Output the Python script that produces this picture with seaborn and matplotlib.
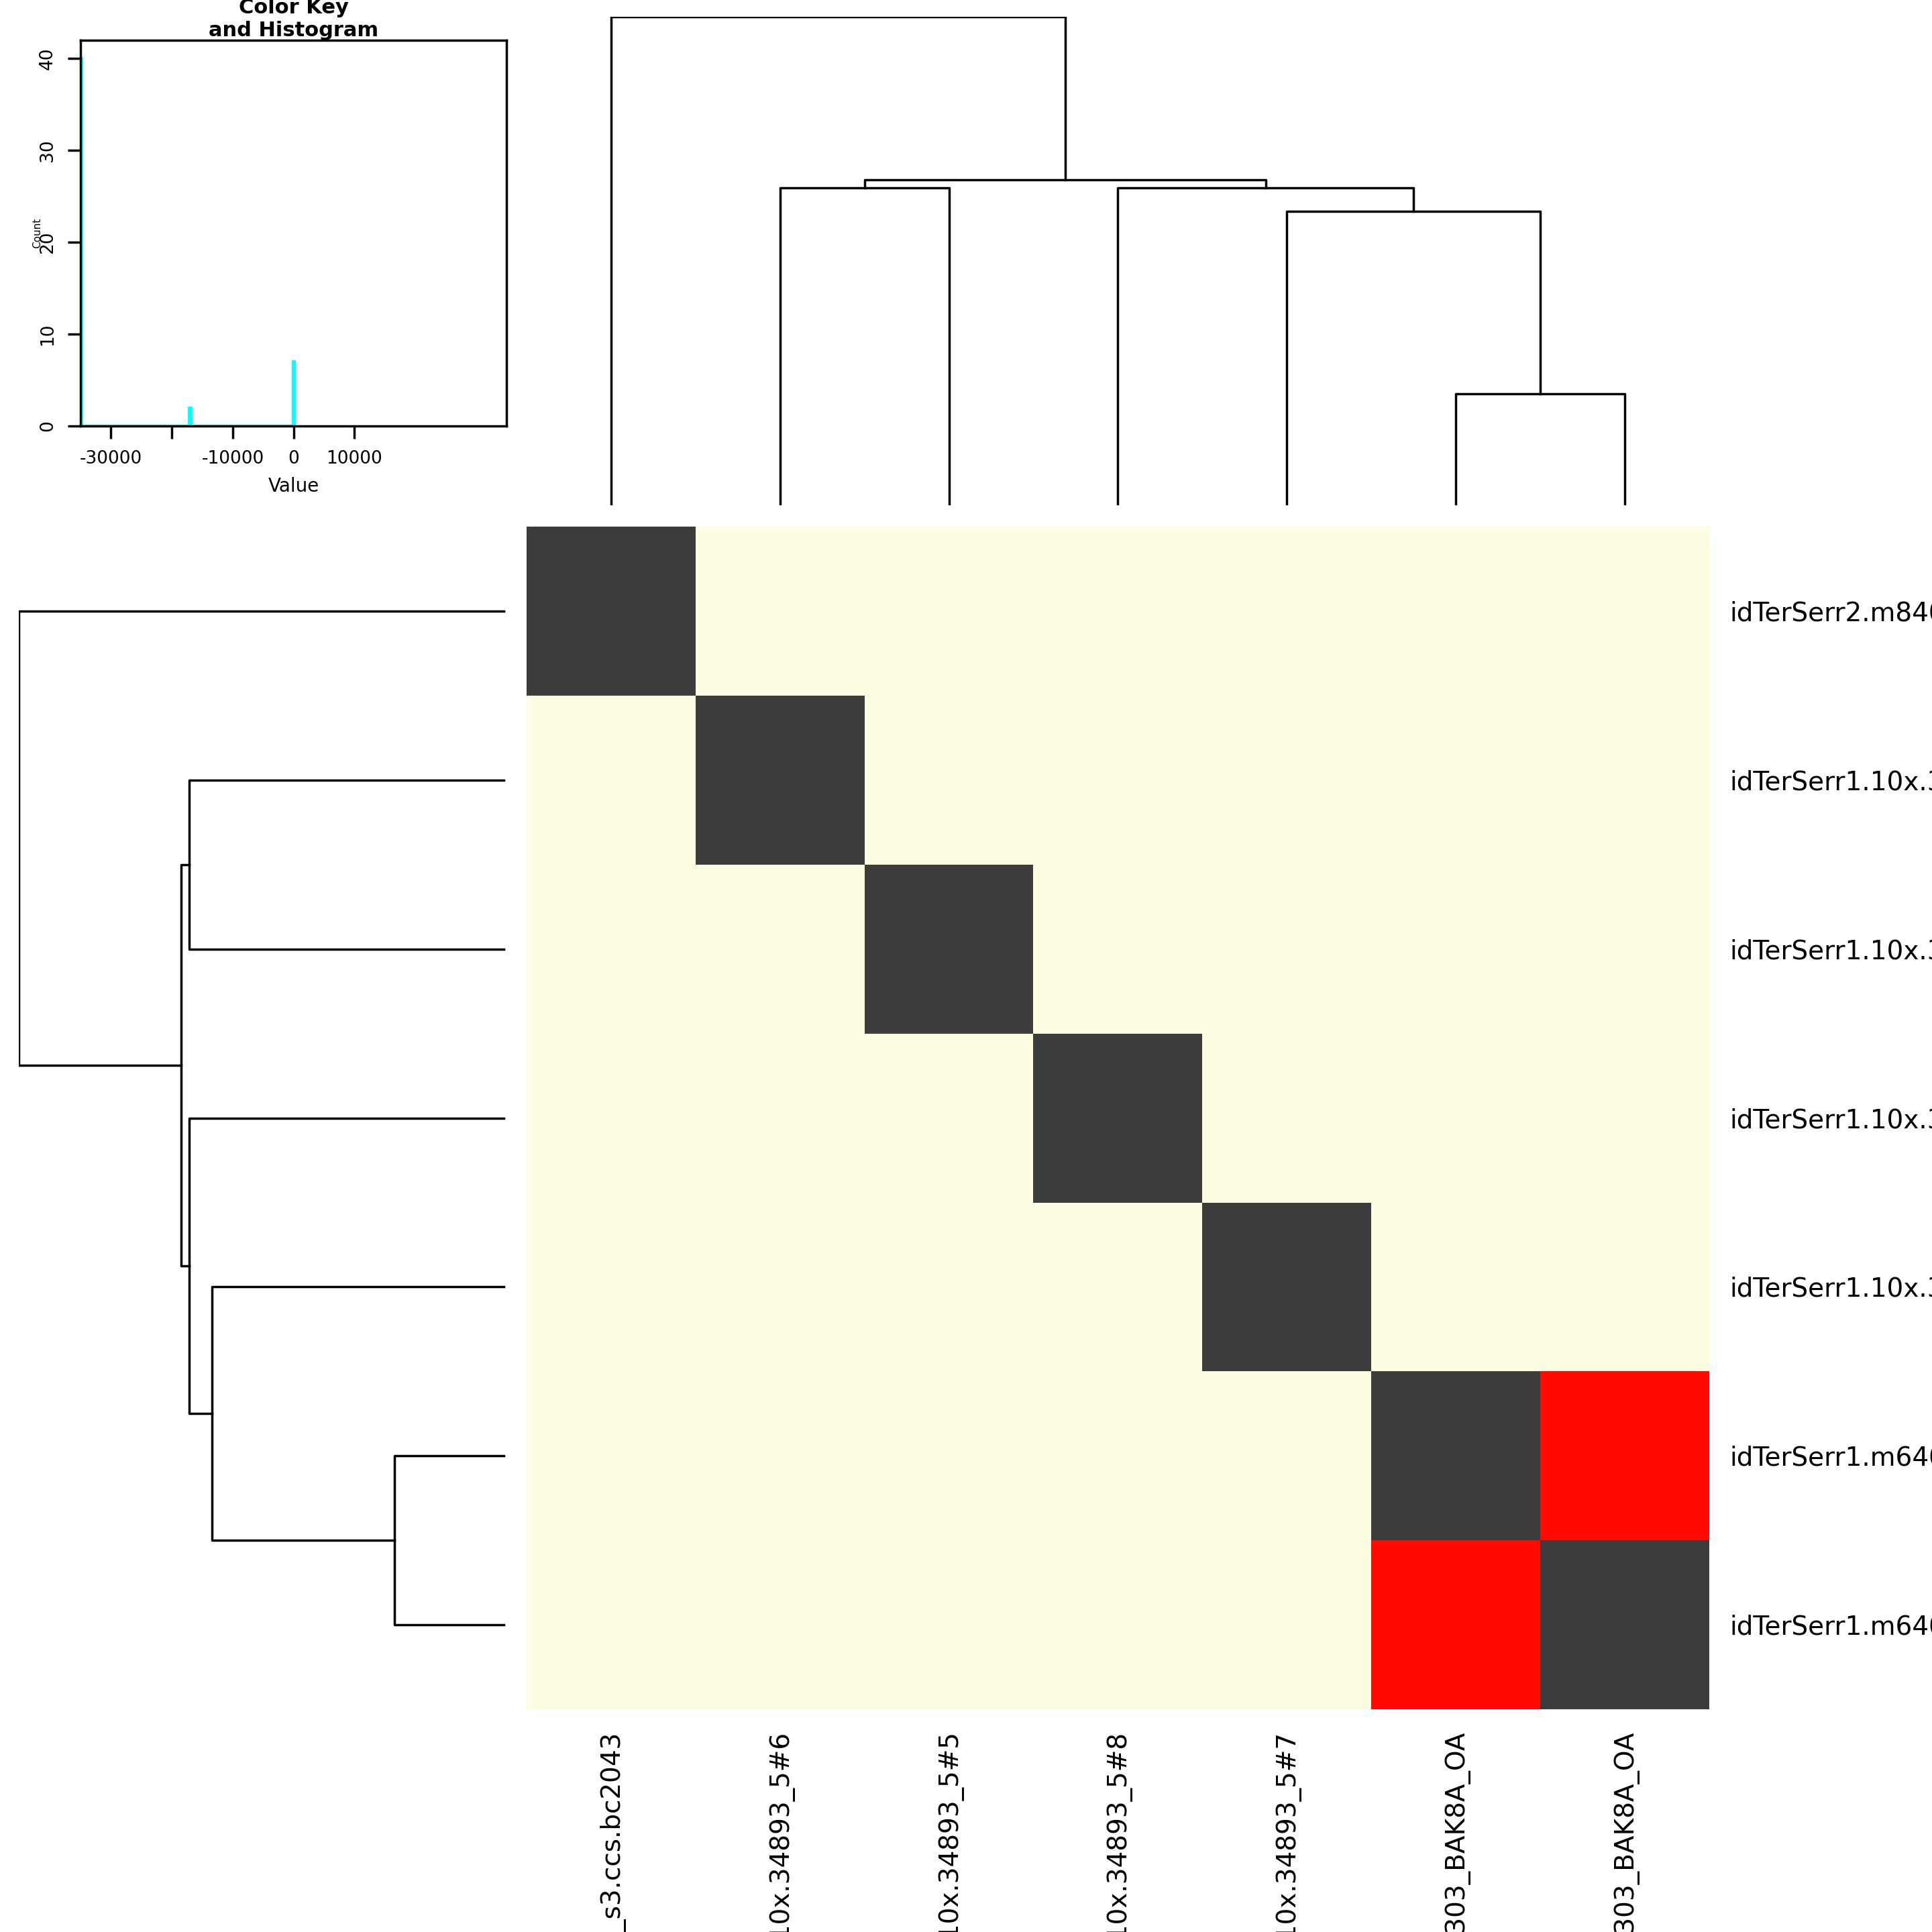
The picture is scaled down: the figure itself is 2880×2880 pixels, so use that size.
import numpy as np
import pandas as pd
import matplotlib
matplotlib.use("Agg")
import matplotlib.pyplot as plt
from matplotlib.colors import ListedColormap
import seaborn as sns

# leaf labels in dendrogram order
labels = [
    "idTerSerr2.m84047_230825_133205_s3.ccs.bc2043",
    "idTerSerr1.10x.34893_5#6",
    "idTerSerr1.10x.34893_5#5",
    "idTerSerr1.10x.34893_5#8",
    "idTerSerr1.10x.34893_5#7",
    "idTerSerr1.m64016_200303_BAK8A_OA",
    "idTerSerr1.m64016e_200303_BAK8A_OA",
]
diag_value = 0
pair_value = -17000
other_value = -34900

# merges: (left leaf/node, right leaf/node, height); nodes numbered 7.. in order
merges = [
    (1, 2, 472),
    (5, 6, 164),
    (4, 8, 437),
    (3, 9, 472),
    (7, 10, 484),
    (0, 11, 727),
]

# histogram of values (bin edges and counts)
hist_edges = [-35000, -34950, -17100, -16900, -100, 0]
hist_counts = [40, 0, 2, 0, 7]

n = len(labels)
mat = np.full((n, n), other_value, dtype=float)
np.fill_diagonal(mat, diag_value)
mat[5, 6] = pair_value
mat[6, 5] = pair_value
df = pd.DataFrame(mat, index=labels, columns=labels)

cmap = ListedColormap(["#FFFDE1", "#FF0A00", "#3C3C3C"])

fig = plt.figure(figsize=(28.8, 28.8), dpi=100)
ax_hm = fig.add_axes([0.2726, 0.1153, 0.612, 0.612])
ax_col = fig.add_axes([0.2726, 0.7372, 0.612, 0.254])
ax_row = fig.add_axes([0.0097, 0.1153, 0.2531, 0.612])
ax_hist = fig.add_axes([0.0417, 0.7795, 0.2205, 0.1997])

sns.heatmap(df, ax=ax_hm, cmap=cmap, vmin=-35000, vmax=0, cbar=False)
ax_hm.yaxis.tick_right()
ax_hm.tick_params(length=0, labelsize=28, pad=22)
ax_hm.set_yticklabels(labels, rotation=0, ha="left")
ax_hm.set_xticklabels(labels, rotation=90, va="top")
ax_hm.set_xlabel("")
ax_hm.set_ylabel("")


def draw_dendro(ax, vertical):
    pos = {i: i + 0.5 for i in range(n)}
    hgt = {i: 0.0 for i in range(n)}
    for k, (a, b, h) in enumerate(merges):
        xs = [pos[a], pos[a], pos[b], pos[b]]
        ys = [hgt[a], h, h, hgt[b]]
        if vertical:
            ax.plot(xs, ys, color="black", lw=2.5)
        else:
            ax.plot(ys, xs, color="black", lw=2.5)
        pos[n + k] = (pos[a] + pos[b]) / 2
        hgt[n + k] = h
    if vertical:
        ax.set_xlim(0, n)
    else:
        ax.set_ylim(n, 0)
    ax.axis("off")


draw_dendro(ax_col, True)
draw_dendro(ax_row, False)
ax_col.set_ylim(-6, 727)
ax_row.set_xlim(727, -6)

ax_hist.stairs(hist_counts, hist_edges, color="cyan", lw=3.5)
ax_hist.set_xlim(-35000, 35000)
ax_hist.set_ylim(0, 42)
ax_hist.set_xticks([-30000, -20000, -10000, 0, 10000])
ax_hist.set_xticklabels(["-30000", "", "-10000", "0", "10000"])
ax_hist.set_yticks([0, 10, 20, 30, 40])
ax_hist.tick_params(labelsize=19, width=2.5, length=14, pad=12)
for t in ax_hist.get_yticklabels():
    t.set_rotation(90)
    t.set_va("center")
for s in ax_hist.spines.values():
    s.set_linewidth(2.5)
ax_hist.set_xlabel("Value", fontsize=20, labelpad=10)
ax_hist.set_ylabel("Count", fontsize=11, labelpad=-4)
ax_hist.set_title("Color Key\nand Histogram", fontsize=22, fontweight="bold", pad=-2)

fig.savefig("out.png", dpi=100)
